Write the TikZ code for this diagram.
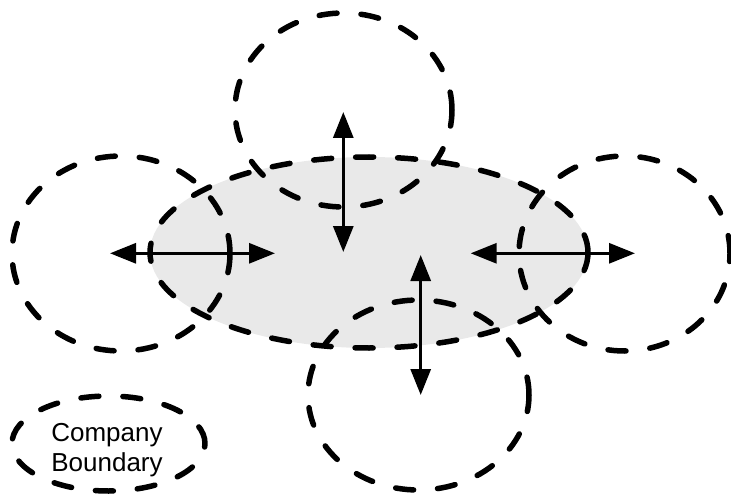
\documentclass[tikz,border=0pt]{standalone}
\usepackage{fontspec}
\setmainfont{Liberation Sans}
\usetikzlibrary{shapes.geometric,arrows.meta}
\definecolor{corefill}{RGB}{233,233,233}
\tikzset{
  boundary/.style={ellipse, draw=black, line width=5.5pt, line cap=round,
    dash pattern=on 18pt off 24pt, inner sep=0pt},
  link/.style={line width=3pt, {Triangle[length=26pt,width=20pt]}-{Triangle[length=26pt,width=20pt]}},
}
\begin{document}
\begin{tikzpicture}[x=1pt,y=-1pt]
\useasboundingbox (0,0) rectangle (731,500);
% central company
\node[boundary, fill=corefill, minimum width=438pt, minimum height=191pt] (core) at (369,252.5) {};
% partner companies
\node[boundary, minimum width=218pt, minimum height=195pt] (west) at (121,253.5) {};
\node[boundary, minimum width=217pt, minimum height=194pt] (north) at (343.5,110) {};
\node[boundary, minimum width=211pt, minimum height=195pt] (east) at (624.5,253.5) {};
\node[boundary, minimum width=221pt, minimum height=190pt] (south) at (418.5,395) {};
% legend
\node[boundary, minimum width=193pt, minimum height=95pt] (legend) at (108.5,443.5) {};
\node[align=center, inner sep=0pt, font=\fontsize{26pt}{30pt}\selectfont] (legendtext) at (107,450) {Company\\Boundary};
% arrow ends
\coordinate (wA) at (110,253.3);
\coordinate (wB) at (275,253.3);
\coordinate (nA) at (343.3,112);
\coordinate (nB) at (343.3,252);
\coordinate (eA) at (470.7,253.3);
\coordinate (eB) at (635,253.3);
\coordinate (sA) at (420.7,255);
\coordinate (sB) at (420.7,395);
\draw[link] (wA) -- (wB);
\draw[link] (nA) -- (nB);
\draw[link] (eA) -- (eB);
\draw[link] (sA) -- (sB);
\end{tikzpicture}
\end{document}
